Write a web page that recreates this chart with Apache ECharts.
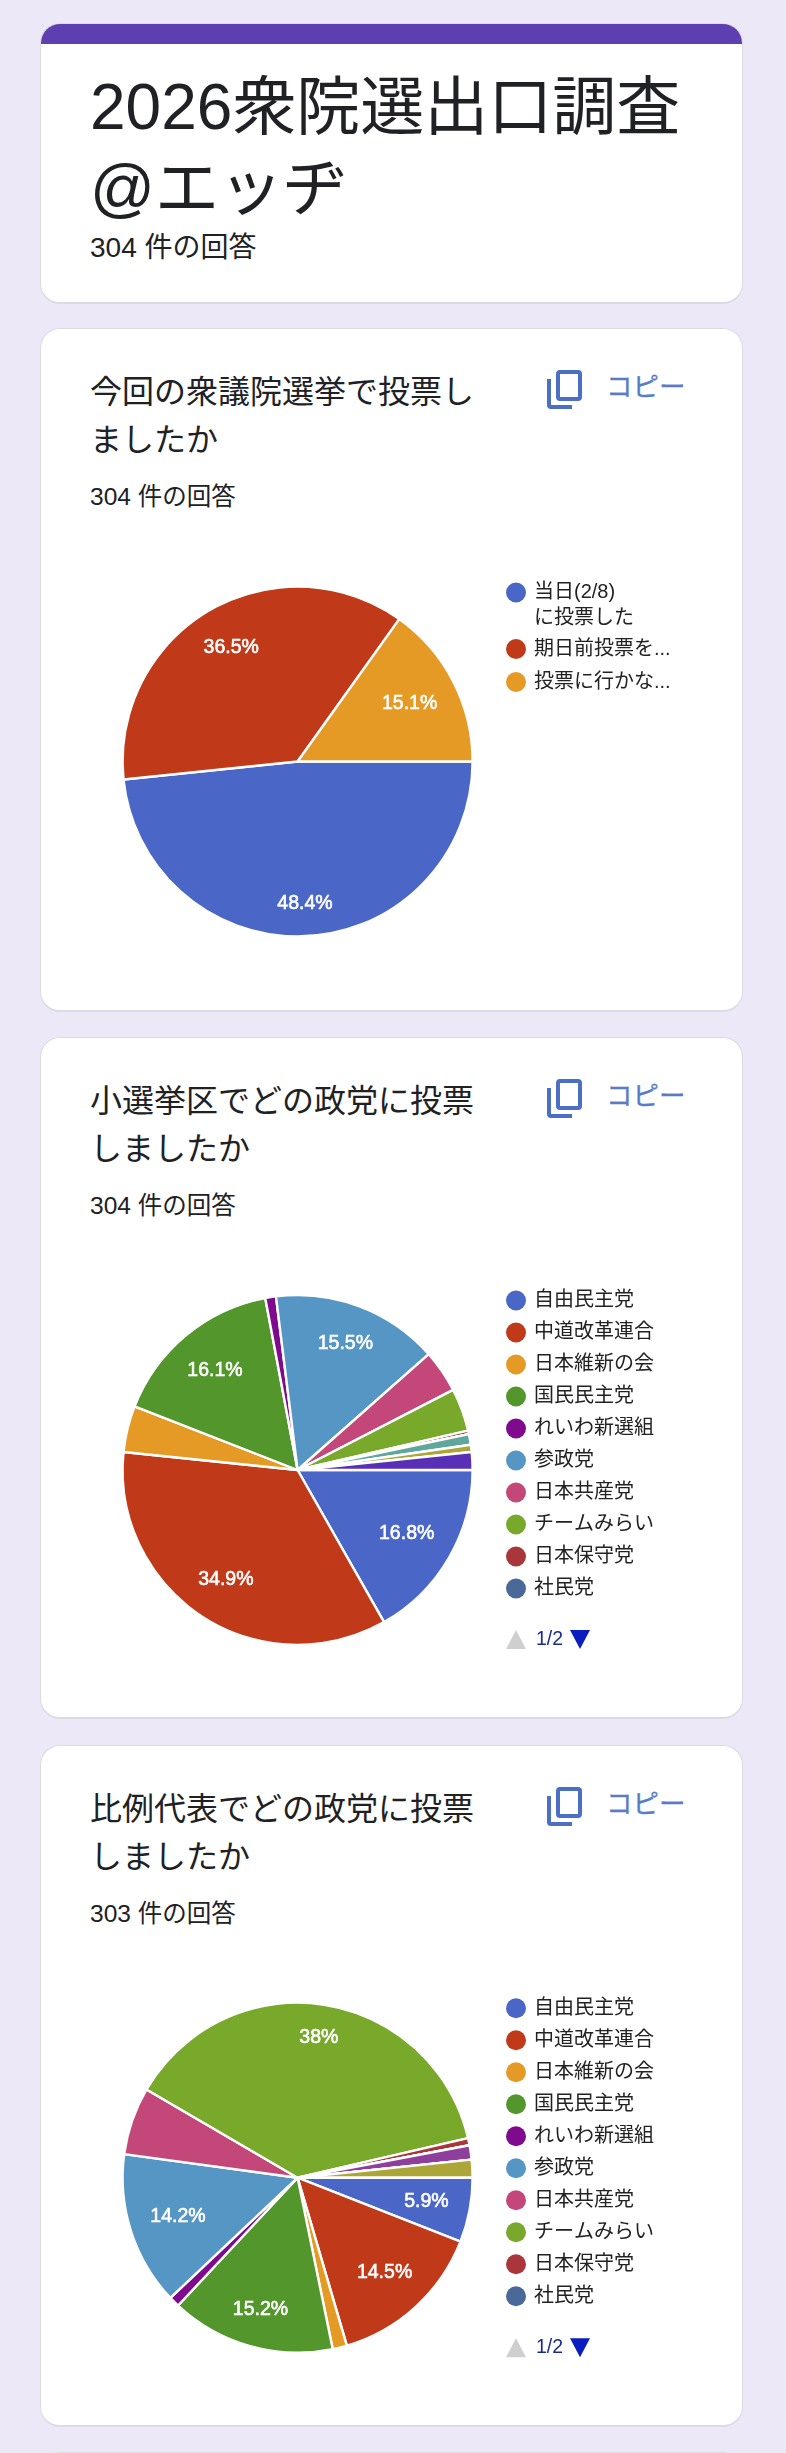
<!DOCTYPE html>
<html lang="ja"><head><meta charset="utf-8">
<script src="https://cdn.jsdelivr.net/npm/echarts@6/dist/echarts.min.js"></script>
<style>
html,body{margin:0;padding:0;background:#ede8f8;width:786px;height:2453px;overflow:hidden;font-family:"Liberation Sans","Noto Sans CJK JP",sans-serif;color:#202124}
.card{position:absolute;left:40px;width:703px;box-sizing:border-box;background:#fff;border:1.5px solid #dcdae2;border-bottom-width:2.5px;border-radius:20px;overflow:hidden}
.bar{position:absolute;left:-2px;right:-2px;top:-2px;height:22px;background:#5e3fb0}
.t{position:absolute;white-space:pre;left:90px}
#chart{position:absolute;left:0;top:0;width:786px;height:2453px}
.copy{position:absolute;left:606px;font-size:26.5px;line-height:30px;color:#5a7cc8;-webkit-text-stroke:.3px #5a7cc8}
svg.ic{position:absolute;left:545px;width:38px;height:42px}
</style></head><body>
<div class="card" style="top:23px;height:281px"><div class="bar"></div></div>
<div class="t" style="top:67px;font-size:64px;line-height:81px">2026衆院選出口調査
@エッヂ</div>
<div class="t" style="top:231px;font-size:28px;line-height:34px">304 件の回答</div>
<div class="card" style="top:2452px;height:40px"></div>
<div id="cards"></div>
<div id="chart"></div>
<script>
const sliceColors = ['#4a66c7','#c03a1a','#e69a26','#53962c','#7f0a8e','#5596c4','#c4477a','#79a92a','#a8363a','#4a6898','#8e3f9c','#5fa79c','#aca638','#5a2fb8'];

const q1Title = '今回の衆議院選挙で投票し\nましたか';
const q1Count = '304 件の回答';
const q1Names = ['当日(2/8)\nに投票した','期日前投票を...','投票に行かな...'];
const q1Values = [147,111,46];

const q2Title = '小選挙区でどの政党に投票\nしましたか';
const q2Count = '304 件の回答';
// the legend only shows page 1 of 2, so the last four party names cannot be read
const partyNames = ['自由民主党','中道改革連合','日本維新の会','国民民主党','れいわ新選組','参政党','日本共産党','チームみらい','日本保守党','社民党','その他A','その他B','その他C','その他D'];
const q2Values = [51,106,13,49,3,47,12,12,1,0,0,3,2,5];

const q3Title = '比例代表でどの政党に投票\nしましたか';
const q3Count = '303 件の回答';
const q3Values = [18,44,4,46,3,43,19,115,2,0,4,0,5,0];
const q3Unlabelled = ['日本共産党'];

const legendPage = '1/2';
const pieCenters = [[297.6,761.5],[297.6,1470],[297.6,2177.7]];
const cardTops = [328,1037,1745];
const cardHeights = [684,682,682];
const pieRadius = 175, labelReach = 155;

const heads=[[q1Title,q1Count],[q2Title,q2Count],[q3Title,q3Count]];
let html='';
heads.forEach((h,i)=>{
  const top=cardTops[i];
  html+=`<div class="card" style="top:${top}px;height:${cardHeights[i]}px"></div>
  <div class="t" style="top:${top+40}px;font-size:32px;line-height:48px">${h[0]}</div>
  <div class="t" style="top:${top+154}px;font-size:24.5px;line-height:30px">${h[1]}</div>
  <svg class="ic" style="top:${top+40}px" viewBox="0 0 38 42" fill="none" stroke="#4a6fc4" stroke-width="4"><rect x="13" y="4" width="22" height="27" rx="2"/><path d="M4 11V37a2 2 0 0 0 2 2H27"/></svg>
  <div class="copy" style="top:${top+44}px">コピー</div>`;
});
document.getElementById('cards').innerHTML=html;

const FONT='"Liberation Sans","Noto Sans CJK JP",sans-serif';
function pie(names,values,center,unlabelled){
  return {
    type:'pie',center:center,radius:[0,pieRadius],startAngle:0,clockwise:true,percentPrecision:1,
    avoidLabelOverlap:false,animation:false,silent:true,
    itemStyle:{borderColor:'#fff',borderWidth:2.4},
    labelLine:{show:false},
    label:{show:true,position:'inside',color:'#fff',fontFamily:FONT,fontSize:19.5,textBorderColor:'#fff',textBorderWidth:0.6,
      formatter:p=>(p.percent>=5&&!(unlabelled||[]).includes(p.name))?parseFloat(p.percent)+'%':''},
    labelLayout:function(p){
      const r=p.labelRect,lx=r.x+r.width/2,ly=r.y+r.height/2;
      const vx=lx-center[0],vy=ly-center[1],d=Math.hypot(vx,vy)||1,ux=vx/d,uy=vy/d;
      const hw=r.width/2,hh=9;
      let t=100;
      for(let i=0;i<30;i++){const n=Math.hypot(t*Math.abs(ux)+hw,t*Math.abs(uy)+hh);t+=labelReach-n;}
      return {dx:ux*t-vx,dy:uy*t-vy};
    },
    data:names.map((n,i)=>({name:n,value:values[i],itemStyle:{color:sliceColors[i]}}))
  };
}
const legendText={fontFamily:FONT,fontSize:20,color:'#222',lineHeight:20,padding:[0,0,0,3]};
const legendBase={orient:'vertical',left:506,padding:0,icon:'circle',itemWidth:20,itemHeight:20,selectedMode:false,textStyle:legendText,itemStyle:{borderWidth:0}};
function pager(centerY){
  const lx=506;
  return [
    {type:'polygon',silent:true,shape:{points:[[lx,centerY+9.5],[lx+20,centerY+9.5],[lx+10,centerY-9.5]]},style:{fill:'#cfcfcf'}},
    {type:'text',silent:true,style:{text:legendPage,x:lx+30,y:centerY,fill:'#1a2a90',font:'19.5px '+FONT,textVerticalAlign:'middle'}},
    {type:'polygon',silent:true,shape:{points:[[lx+64,centerY-9.5],[lx+84,centerY-9.5],[lx+74,centerY+9.5]]},style:{fill:'#0a1ec0'}}
  ];
}
const q1Lines=q1Names[0].split('\n');
const chart=echarts.init(document.getElementById('chart'),null,{width:786,height:2453});
chart.setOption({
  animation:false,
  backgroundColor:'transparent',
  legend:[
    Object.assign({},legendBase,{top:pieCenters[0][1]-179,formatter:n=>n.split('\n')[0],data:[q1Names[0]]}),
    Object.assign({},legendBase,{top:pieCenters[0][1]-122.5,itemGap:13,data:q1Names.slice(1)}),
    Object.assign({},legendBase,{top:pieCenters[1][1]-179.5,itemGap:12,data:partyNames.slice(0,10)}),
    Object.assign({},legendBase,{top:pieCenters[2][1]-179.5,itemGap:12,data:partyNames.slice(0,10)})
  ],
  graphic:[
    {type:'text',silent:true,style:{text:q1Lines[1],x:534,y:pieCenters[0][1]-143,fill:'#222',font:'20px '+FONT,textVerticalAlign:'middle'}},
    ...pager(pieCenters[1][1]+169.5),
    ...pager(pieCenters[2][1]+170)
  ],
  series:[pie(q1Names,q1Values,pieCenters[0]),pie(partyNames,q2Values,pieCenters[1]),pie(partyNames,q3Values,pieCenters[2],q3Unlabelled)]
});
</script></body></html>
